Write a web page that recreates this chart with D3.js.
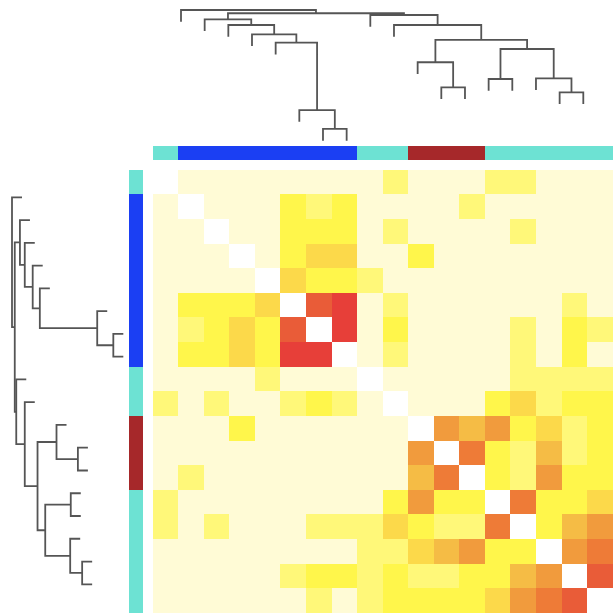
<!DOCTYPE html>
<script src="https://d3js.org/d3.v7.min.js"></script>
<style>body{margin:0;background:#fff}</style>
<svg width="613" height="613"></svg>
<script>

    // leaf order (same for rows and columns) and their group
    const leaves = d3.range(18);
    const groups = ["g1", "g2", "g2", "g2", "g2", "g2", "g2", "g2",
        "g1", "g1", "g3", "g3", "g3", "g1", "g1", "g1", "g1", "g1"];
    const groupColors = {g1: "#6de2d3", g2: "#1b3ff3", g3: "#a6282a"};

    // value levels
    const P = 0, L = 0.2, Y = 0.3, G = 0.45, O1 = 0.55, O = 0.65, D = 0.75, R1 = 0.85, R = 1, N = null;

    const values = [
        [N, P, P, P, P, P, P, P, P, L, P, P, P, L, L, P, P, P],
        [P, N, P, P, P, Y, L, Y, P, P, P, P, L, P, P, P, P, P],
        [P, P, N, P, P, Y, Y, Y, P, L, P, P, P, P, L, P, P, P],
        [P, P, P, N, P, Y, G, G, P, P, Y, P, P, P, P, P, P, P],
        [P, P, P, P, N, G, Y, Y, L, P, P, P, P, P, P, P, P, P],
        [P, Y, Y, Y, G, N, R1, R, P, L, P, P, P, P, P, P, L, P],
        [P, L, Y, G, Y, R1, N, R, P, Y, P, P, P, P, L, P, Y, L],
        [P, Y, Y, G, Y, R, R, N, P, L, P, P, P, P, L, P, Y, P],
        [P, P, P, P, L, P, P, P, N, P, P, P, P, P, L, L, L, L],
        [L, P, L, P, P, L, Y, L, P, N, P, P, P, Y, G, L, Y, Y],
        [P, P, P, Y, P, P, P, P, P, P, N, O, O1, O, Y, G, L, Y],
        [P, P, P, P, P, P, P, P, P, P, O, N, D, Y, L, O1, L, Y],
        [P, L, P, P, P, P, P, P, P, P, O1, D, N, Y, L, O, Y, Y],
        [L, P, P, P, P, P, P, P, P, Y, O, Y, Y, N, D, Y, Y, G],
        [L, P, L, P, P, P, L, L, L, G, Y, L, L, D, N, Y, O1, O],
        [P, P, P, P, P, P, P, P, L, L, G, O1, O, Y, Y, N, O, D],
        [P, P, P, P, P, L, Y, Y, L, Y, L, L, Y, Y, O1, O, N, R1],
        [P, P, P, P, P, P, L, P, L, Y, Y, Y, Y, G, O, D, R1, N]
    ];

    // linkage: [left id, right id, distance]; new clusters get ids 18, 19, ...
    const linkage = [
        [6, 7, 0.119], [5, 18, 0.259], [4, 19, 0.758], [3, 20, 0.82],
        [2, 21, 0.889], [1, 22, 0.931], [16, 17, 0.39], [11, 12, 0.427],
        [13, 14, 0.489], [15, 24, 0.494], [10, 25, 0.613], [26, 27, 0.711],
        [28, 29, 0.778], [9, 30, 0.889], [8, 31, 0.963], [23, 32, 0.976],
        [0, 33, 1.0]
    ];
    const hang = 0.087;

    const svg = d3.select("svg");

    const color = d3.scaleLinear()
        .domain([0, 0.3, 0.45, 0.55, 0.65, 0.75, 0.85, 1])
        .range(["#fffbd6", "#fff64b", "#fcd94a", "#f5bc45", "#f19b3d", "#ee7b37", "#e95c38", "#e73f39"]);

    const x = d3.scaleBand().domain(leaves).range([152.7, 612.7]);
    const y = d3.scaleBand().domain(leaves).range([169.7, 613]);

    // heatmap
    const cells = [];
    values.forEach((row, r) => row.forEach((v, c) => cells.push({r, c, v})));
    svg.append("g")
        .attr("shape-rendering", "crispEdges")
        .selectAll("rect")
        .data(cells)
        .join("rect")
        .attr("x", d => x(d.c))
        .attr("y", d => y(d.r))
        .attr("width", x.bandwidth() + 0.5)
        .attr("height", y.bandwidth() + 0.5)
        .attr("fill", d => d.v === null ? "#fff" : color(d.v));

    // group colour bars
    svg.append("g")
        .attr("shape-rendering", "crispEdges")
        .selectAll("rect")
        .data(leaves)
        .join("rect")
        .attr("x", d => x(d))
        .attr("y", 145.7)
        .attr("width", x.bandwidth() + 0.5)
        .attr("height", 14.5)
        .attr("fill", d => groupColors[groups[d]]);

    svg.append("g")
        .attr("shape-rendering", "crispEdges")
        .selectAll("rect")
        .data(leaves)
        .join("rect")
        .attr("x", 128.7)
        .attr("y", d => y(d))
        .attr("width", 14.6)
        .attr("height", y.bandwidth() + 0.5)
        .attr("fill", d => groupColors[groups[d]]);

    // dendrograms
    function dendroPaths(leafPos, distPos, horizontal) {
        const nodes = leaves.map(i => ({pos: leafPos(i), h: null}));
        const paths = [];
        linkage.forEach(([a, b, h]) => {
            const na = nodes[a], nb = nodes[b];
            const ha = na.h === null ? h - hang : na.h;
            const hb = nb.h === null ? h - hang : nb.h;
            if (horizontal) {
                paths.push(`M${distPos(ha)},${na.pos}H${distPos(h)}V${nb.pos}H${distPos(hb)}`);
            } else {
                paths.push(`M${na.pos},${distPos(ha)}V${distPos(h)}H${nb.pos}V${distPos(hb)}`);
            }
            nodes.push({pos: (na.pos + nb.pos) / 2, h: h});
        });
        return paths;
    }

    const topLeaf = d3.scalePoint().domain(leaves).range([181, 583.3]);
    const topDist = d3.scaleLinear().domain([0, 1]).range([145, 10]);
    const leftLeaf = d3.scalePoint().domain(leaves).range([197.3, 584.3]);
    const leftDist = d3.scaleLinear().domain([0, 1]).range([127, 12]);

    svg.append("g").selectAll("path")
        .data(dendroPaths(topLeaf, topDist, false))
        .join("path")
        .attr("d", d => d)
        .attr("fill", "none")
        .attr("stroke", "#555")
        .attr("stroke-width", 1.8);

    svg.append("g").selectAll("path")
        .data(dendroPaths(leftLeaf, leftDist, true))
        .join("path")
        .attr("d", d => d)
        .attr("fill", "none")
        .attr("stroke", "#555")
        .attr("stroke-width", 1.8);

</script>
